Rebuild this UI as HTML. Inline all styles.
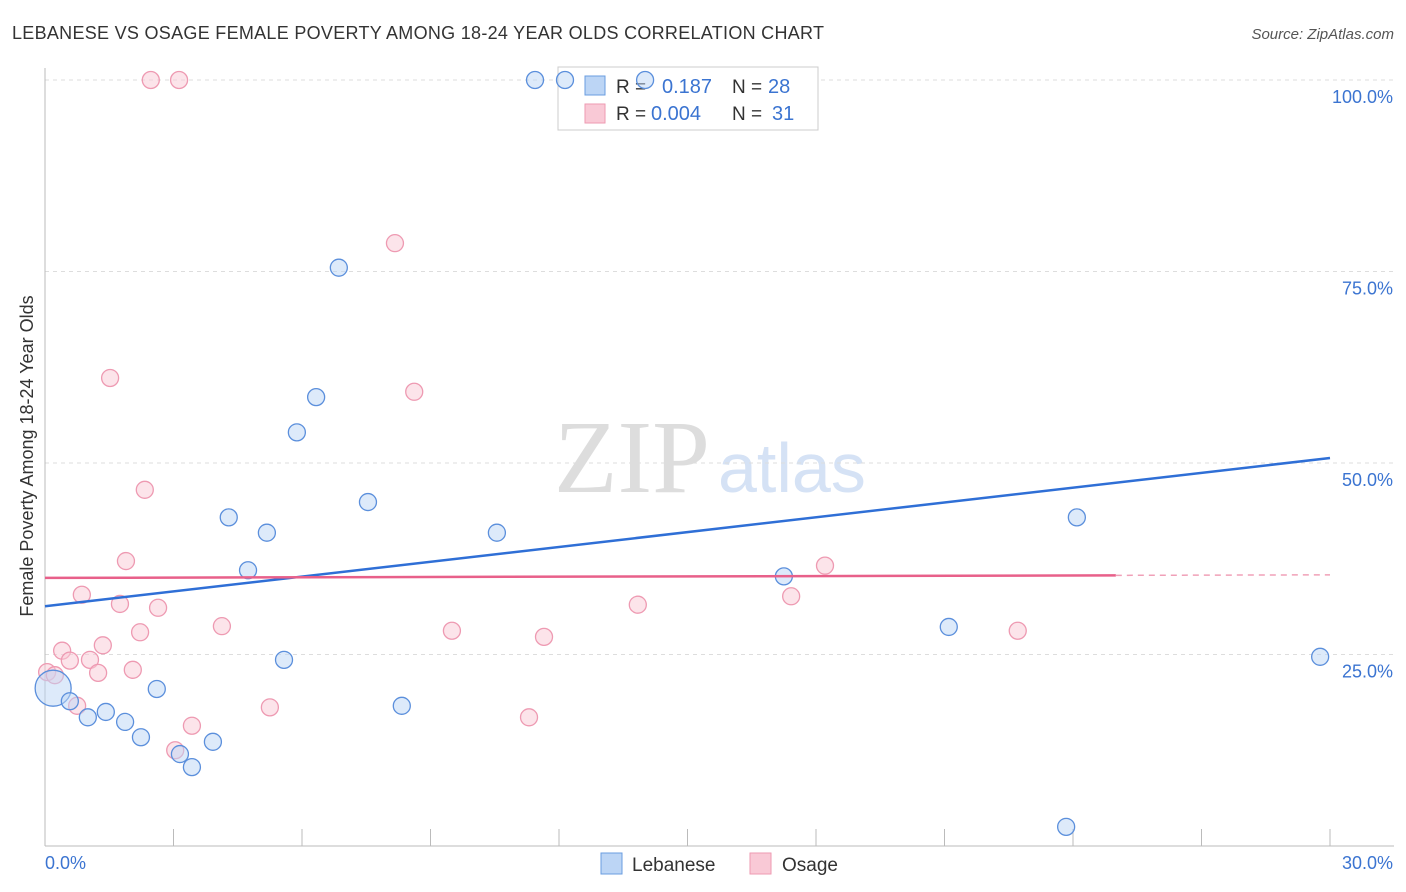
<!DOCTYPE html><html><head><meta charset="utf-8"><style>
body{margin:0;background:#fff;font-family:"Liberation Sans",sans-serif}
</style></head><body>
<svg width="1406" height="892" style="display:block">
<text x="12" y="39" font-size="18" fill="#333" textLength="812" lengthAdjust="spacing">LEBANESE VS OSAGE FEMALE POVERTY AMONG 18-24 YEAR OLDS CORRELATION CHART</text>
<text x="1394" y="39" font-size="15" fill="#555" font-style="italic" text-anchor="end">Source: ZipAtlas.com</text>
<text x="33" y="456" font-size="18" fill="#333" text-anchor="middle" transform="rotate(-90 33 456)">Female Poverty Among 18-24 Year Olds</text>
<text x="554" y="492" font-size="104" fill="#ddd" font-family="Liberation Serif">ZIP</text>
<text x="718" y="492" font-size="70" fill="#d5e2f5">atlas</text>
<g id="grid"></g><g id="axes"></g>
<g>
<rect x="558" y="67" width="260" height="63" fill="#fff" stroke="#ccc"/>
<rect x="585" y="76" width="20" height="19" fill="#bcd5f5" stroke="#6a9de0"/>
<rect x="585" y="104" width="20" height="19" fill="#f9c9d6" stroke="#ee9ab2"/>
<text x="616" y="93" font-size="19" fill="#333">R = </text><text x="662" y="93" font-size="20" fill="#3b74d1">0.187</text>
<text x="732" y="93" font-size="19" fill="#333">N = </text><text x="768" y="93" font-size="20" fill="#3b74d1">28</text>
<text x="616" y="120" font-size="19" fill="#333">R = </text><text x="651" y="120" font-size="20" fill="#3b74d1">0.004</text>
<text x="732" y="120" font-size="19" fill="#333">N = </text><text x="772" y="120" font-size="20" fill="#3b74d1">31</text>
</g>
<g id="pts"></g><g id="lines"></g>
<g>
<rect x="601" y="853" width="21" height="21" fill="#bcd5f5" stroke="#6a9de0"/>
<text x="632" y="871" font-size="19" fill="#333">Lebanese</text>
<rect x="750" y="853" width="21" height="21" fill="#f9c9d6" stroke="#ee9ab2"/>
<text x="782" y="871" font-size="19" fill="#333">Osage</text>
</g>
</svg>
<script>
const blueX=[0.19,0.58,1.00,1.42,1.87,2.24,2.61,3.15,3.43,3.92,4.29,4.74,5.18,5.58,5.88,6.33,6.86,7.54,8.33,10.55,11.44,12.14,14.01,17.25,21.10,23.84,24.09,29.77];
const blueY=[20.6,18.9,16.8,17.5,16.2,14.2,20.5,12.0,10.3,13.6,42.9,36.0,40.9,24.3,54.0,58.6,75.5,44.9,18.3,40.9,100,100,100,35.2,28.6,2.5,42.9,24.7];
const pinkX=[0.05,0.23,0.40,0.58,0.75,0.86,1.05,1.24,1.35,1.52,1.75,1.89,2.05,2.22,2.33,2.47,2.64,3.04,3.13,3.43,4.13,5.25,8.17,8.62,9.50,11.30,11.65,13.84,17.42,18.21,22.71];
const pinkY=[22.7,22.3,25.5,24.2,18.3,32.8,24.3,22.6,26.2,61.1,31.6,37.2,23.0,27.9,46.5,100,31.1,12.5,100,15.7,28.7,18.1,78.7,59.3,28.1,16.8,27.3,31.5,32.6,36.6,28.1];
const yTicks=[25,50,75,100];
const yTickLabels=["25.0%","50.0%","75.0%","100.0%"];
const blueTrend=[31.3,50.65];
const pinkTrend=[35.0,35.4];
const pinkTrendEnd=25;
const NS="http://www.w3.org/2000/svg";
const X=v=>45+v/30*1285, Y=v=>846-v*7.66;
function mk(p,t,a){const e=document.createElementNS(NS,t);for(const k in a)e.setAttribute(k,a[k]);document.getElementById(p).appendChild(e);return e;}
yTicks.forEach((t,i)=>{
 let l=mk('grid','line',{x1:45,x2:1394,y1:Y(t),y2:Y(t),stroke:'#ddd','stroke-dasharray':'4,4'});
 
 
 let tx=mk('grid','text',{x:1393,y:Y(t)+23,'font-size':18,fill:'#3b74d1','text-anchor':'end'});
 tx.textContent=yTickLabels[i];
 
 
});
let ax=mk('axes','line',{x1:45,x2:45,y1:68,y2:846,stroke:'#bbb'});


let bx=mk('axes','line',{x1:45,x2:1394,y1:846,y2:846,stroke:'#bbb'});


for(let i=0;i<=10;i++){let t=mk('axes','line',{x1:X(i*3),x2:X(i*3),y1:829,y2:846,stroke:'#bbb'});
 
 }
[["0.0%",45,"start"],["30.0%",1393,"end"]].forEach(a=>{let t=mk('axes','text',{x:a[1],y:869,'font-size':18,fill:'#3b74d1','text-anchor':a[2]});t.textContent=a[0];
 
 });
function pts(xs,ys,f,s,n){xs.forEach((x,i)=>{let c=mk('pts','circle',{cx:X(x),cy:Y(ys[i]),r:(n=='lebanese-point'&&i==0)?18:8.5,fill:f,stroke:s,'stroke-width':1.3,'fill-opacity':0.5});
 
 });}
pts(pinkX,pinkY,'#f9c9d6','#ee9ab2','osage-point');
pts(blueX,blueY,'#bcd5f5','#5b8fdc','lebanese-point');
let bl=mk('lines','line',{x1:X(0),x2:X(30),y1:Y(blueTrend[0]),y2:Y(blueTrend[1]),stroke:'#2f6fd6','stroke-width':2.5});


const pm=pinkTrend[0]+(pinkTrend[1]-pinkTrend[0])*pinkTrendEnd/30;
let pl=mk('lines','line',{x1:X(0),x2:X(pinkTrendEnd),y1:Y(pinkTrend[0]),y2:Y(pm),stroke:'#e8608a','stroke-width':2.5});


let pd=mk('lines','line',{x1:X(pinkTrendEnd),x2:X(30),y1:Y(pm),y2:Y(pinkTrend[1]),stroke:'#f0a0b8','stroke-width':1.5,'stroke-dasharray':'6,5'});


</script></body></html>
